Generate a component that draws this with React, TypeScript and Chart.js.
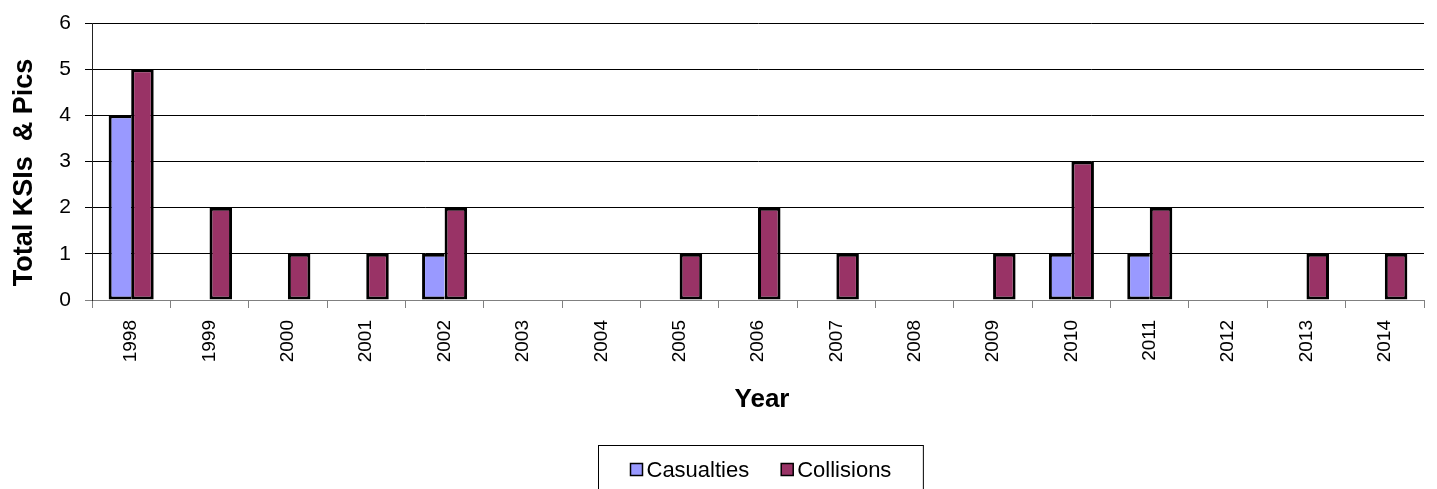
import React, { useEffect, useRef } from "react";
import { Chart, registerables } from "chart.js";

Chart.register(...registerables);

const years = ["1998","1999","2000","2001","2002","2003","2004","2005","2006","2007","2008","2009","2010","2011","2012","2013","2014"];
const casualties = [4,0,0,0,1,0,0,0,0,0,0,0,1,1,0,0,0];
const collisions = [5,2,1,1,2,0,0,1,2,1,0,1,3,2,0,1,1];
const yTicks = [0,1,2,3,4,5,6];
const xTitle = "Year";
const yTitle = "Total KSIs  & Pics";

const FONT = '"Liberation Sans", Arial, sans-serif';

const titlesPlugin = {
  id: "axisTitles",
  afterDraw(chart: any) {
    const ctx = chart.ctx as CanvasRenderingContext2D;
    const a = chart.chartArea;
    ctx.save();
    ctx.fillStyle = "#000";
    ctx.font = `bold 27px ${FONT}`;
    ctx.textAlign = "center";
    ctx.textBaseline = "middle";
    ctx.save();
    ctx.translate(24, (a.top + a.bottom) / 2 + 11);
    ctx.rotate(-Math.PI / 2);
    ctx.fillText(yTitle, 0, 1);
    ctx.restore();
    ctx.font = `bold 26px ${FONT}`;
    ctx.fillText(xTitle, (a.left + a.right) / 2 + 4, a.bottom + 100);
    ctx.restore();
  },
};

const legendBoxPlugin = {
  id: "legendBox",
  afterDraw(chart: any) {
    const ctx = chart.ctx as CanvasRenderingContext2D;
    const area = chart.chartArea;
    ctx.save();
    ctx.font = `22px ${FONT}`;
    const marker = 12, gap = 4, itemGap = 32, pad = 32;
    const items = chart.data.datasets.map((ds: any) => ({
      label: ds.label as string,
      color: ds.backgroundColor as string,
      w: marker + gap + ctx.measureText(ds.label).width,
    }));
    const content = items.reduce((s: number, it: any) => s + it.w, 0) + itemGap * (items.length - 1);
    const boxW = content + pad * 2;
    const cx = (area.left + area.right) / 2 + 2;
    const boxLeft = Math.round(cx - boxW / 2) + 0.5;
    const boxTop = chart.height - 44 + 0.5;
    ctx.strokeStyle = "#000";
    ctx.lineWidth = 1;
    ctx.strokeRect(boxLeft, boxTop, boxW, 60);
    let x = boxLeft + pad;
    const cy = boxTop + 24;
    ctx.textBaseline = "middle";
    for (const it of items) {
      ctx.fillStyle = it.color;
      ctx.fillRect(x, cy - marker / 2, marker, marker);
      ctx.strokeStyle = "#000";
      ctx.lineWidth = 1.5;
      ctx.strokeRect(x, cy - marker / 2, marker, marker);
      ctx.fillStyle = "#000";
      ctx.fillText(it.label, x + marker + gap, cy + 1);
      x += it.w + itemGap;
    }
    ctx.restore();
  },
};

export default function App() {
  const ref = useRef<HTMLCanvasElement | null>(null);
  useEffect(() => {
    document.body.style.margin = "0";
    const canvas = ref.current!;
    const chart = new Chart(canvas, {
      type: "bar",
      data: {
        labels: years,
        datasets: [
          {
            label: "Casualties",
            data: casualties,
            backgroundColor: "#9999FF",
            borderColor: "#000",
            borderWidth: { top: 3, left: 3, bottom: 3, right: 0 },
            borderSkipped: false,
            categoryPercentage: 0.575,
            barPercentage: 1,
          },
          {
            label: "Collisions",
            data: collisions,
            backgroundColor: "#993366",
            borderColor: "#000",
            borderWidth: 3,
            borderSkipped: false,
            categoryPercentage: 0.575,
            barPercentage: 1,
          },
        ],
      },
      options: {
        responsive: false,
        animation: false,
        devicePixelRatio: 1,
        layout: { padding: { top: 23, right: 13, bottom: 76, left: 0 } },
        plugins: {
          legend: { display: false },
          tooltip: { enabled: false },
        },
        scales: {
          x: {
            offset: true,
            grid: {
              offset: true,
              drawOnChartArea: false,
              drawTicks: true,
              tickLength: 8,
              color: "#808080",
              lineWidth: 1,
            },
            border: { display: true, color: "#808080", width: 1 },
            ticks: {
              color: "#000",
              font: { family: FONT, size: 19 },
              minRotation: 90,
              maxRotation: 90,
              padding: 12,
              autoSkip: false,
            },
            title: { display: false },
            afterFit: (scale: any) => {
              scale.height = 113;
            },
          },
          y: {
            min: 0,
            max: 6,
            afterBuildTicks: (scale: any) => {
              scale.ticks = yTicks.map((v) => ({ value: v }));
            },
            grid: {
              color: (c: any) => (c.tick && c.tick.value === 0 ? "#808080" : "#000"),
              lineWidth: 1,
              tickLength: 7,
              drawTicks: true,
            },
            border: { display: true, color: "#222", width: 1 },
            ticks: {
              color: "#000",
              font: { family: FONT, size: 21, lineHeight: 0.8 },
              padding: 14,
              stepSize: 1,
            },
            title: { display: false },
            afterFit: (scale: any) => {
              scale.width = 92;
            },
          },
        },
      },
      plugins: [titlesPlugin, legendBoxPlugin],
    });
    return () => chart.destroy();
  }, []);
  return (
    <div style={{ width: 1437, height: 489 }}>
      <canvas ref={ref} width={1437} height={489} style={{ display: "block" }} />
    </div>
  );
}
